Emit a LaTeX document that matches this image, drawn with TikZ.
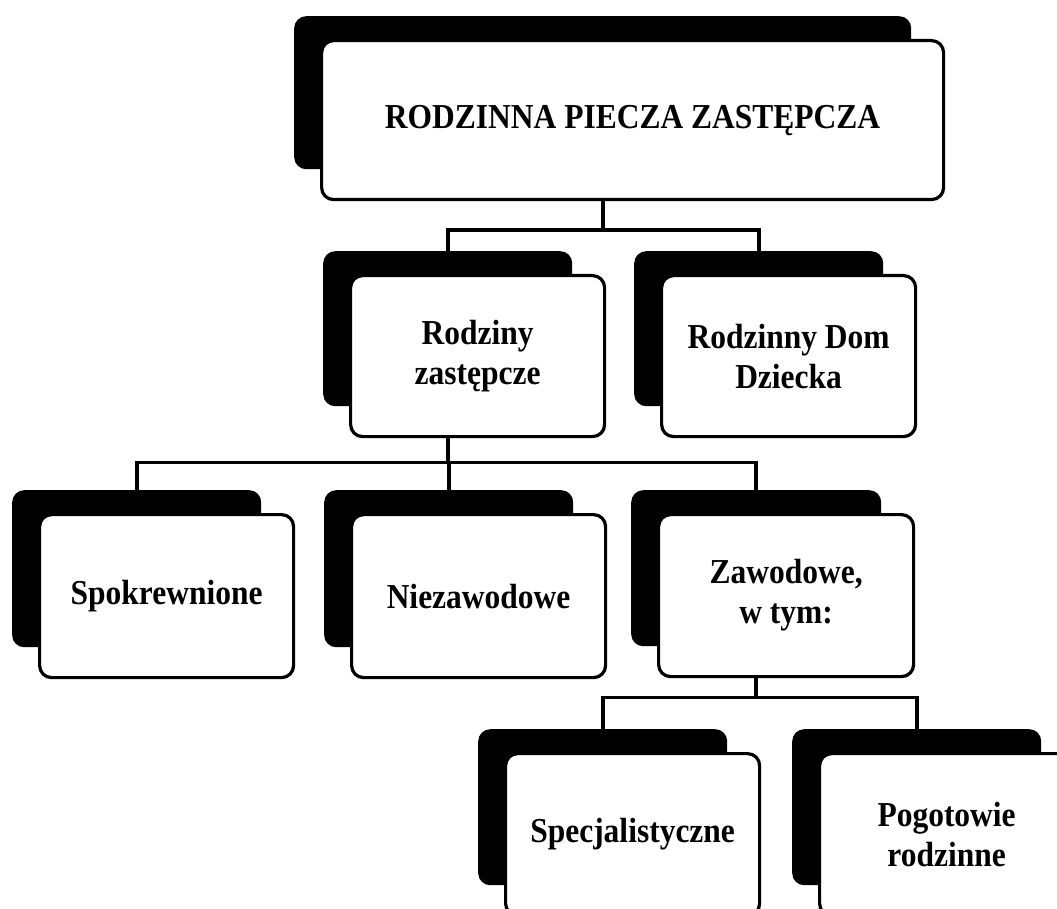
\documentclass[tikz,border=0pt]{standalone}
\usepackage{fontspec}
\setmainfont{Liberation Serif}[FakeStretch=0.9]
\usetikzlibrary{backgrounds,calc}
\tikzset{
  shadowbox/.style={fill=black, rounded corners=12pt, inner sep=0pt, draw=none},
  whitebox/.style={fill=white, draw=black, line width=3.2pt, rounded corners=12pt,
    inner sep=0pt, align=center, font=\fontsize{35}{40}\selectfont\bfseries},
  conn/.style={draw=black, line width=3.8pt},
}
% name, left, top, width, height, text
\newcommand\tbox[6]{%
  \node[shadowbox, minimum width=#4-5, minimum height=#5-6, anchor=north west] (#1S) at (#2-26,#3-23) {};
  \node[whitebox, minimum width=#4, minimum height=#5, anchor=north west] (#1) at (#2,#3) {#6};
}
\begin{document}
\begin{tikzpicture}[x=1pt,y=-1pt]
\useasboundingbox (0,0) rectangle (1057,909);
\clip (0,0) rectangle (1057,909);

\tbox{top}{320}{39}{622}{159}{RODZINNA PIECZA ZASTĘPCZA}
\tbox{rz}{349}{274}{254}{161}{Rodziny\\zastępcze}
\tbox{rdd}{660}{274}{254}{161}{Rodzinny Dom\\Dziecka}
\tbox{spok}{38}{513}{254}{163}{Spokrewnione}
\tbox{niez}{350}{513}{254}{163}{Niezawodowe}
\tbox{zaw}{657}{513}{255}{162}{Zawodowe,\\w tym:}
\tbox{spec}{504}{752}{254}{162}{Specjalistyczne}
\tbox{pog}{818}{752}{254}{162}{Pogotowie\\rodzinne}

\begin{scope}[on background layer]
  \coordinate (j1) at ($(topS.south)+(0,61)$);
  \draw[conn] (topS.south) -- (j1);
  \draw[conn] (rzS.north) |- (j1) -| (rddS.north);

  \coordinate (j2) at ($(rzS.south)+(0,56)$);
  \draw[conn] (rzS.south) -- (j2);
  \draw[conn] (spokS.north) |- (j2) -| (zawS.north);
  \draw[conn] (niezS.north) -- (niezS.north |- j2);

  \coordinate (j3) at ($(zawS.south)+(0,51)$);
  \draw[conn] (zawS.south) -- (j3);
  \draw[conn] (specS.north) |- (j3) -| (pogS.north);
\end{scope}
\end{tikzpicture}
\end{document}
